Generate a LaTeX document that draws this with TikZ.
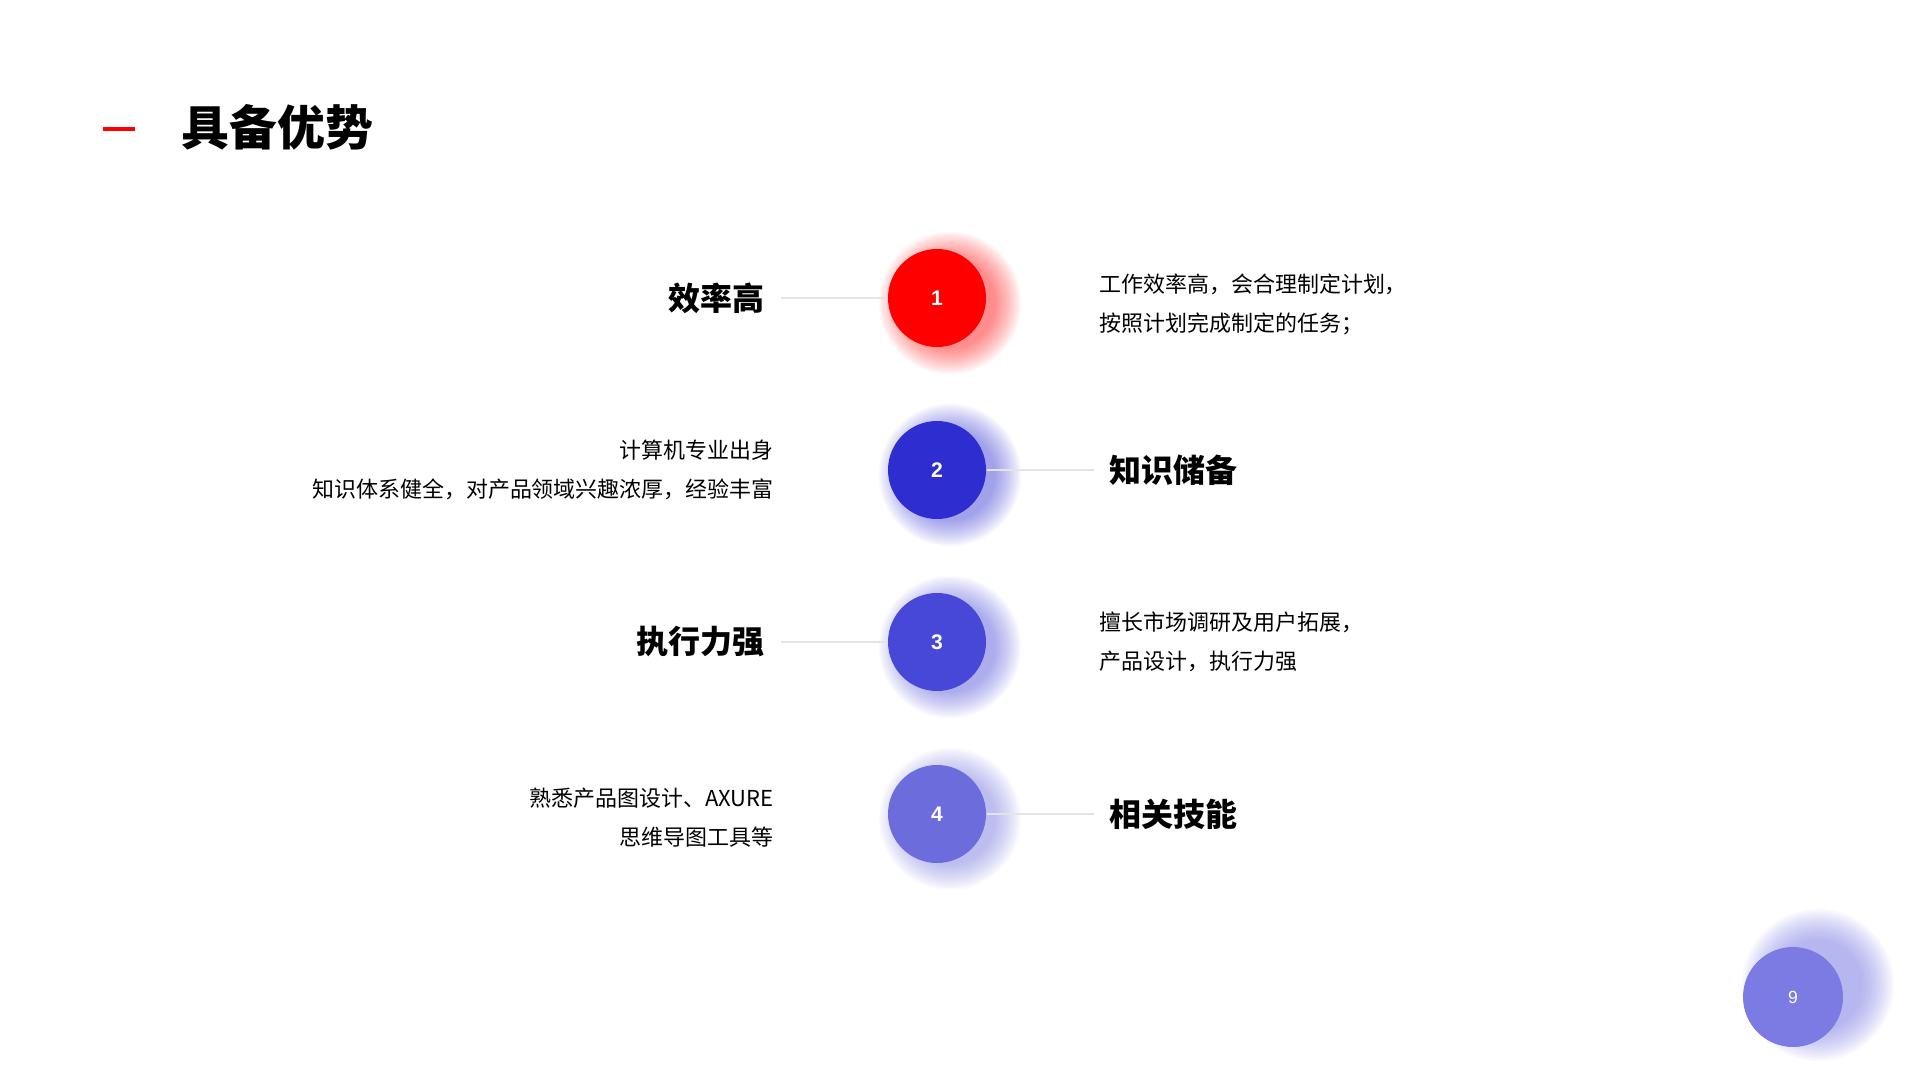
\documentclass[tikz,border=0pt]{standalone}
\usepackage{fontspec}
\setmainfont{Noto Sans CJK SC}
\newfontfamily\digitfont{Liberation Sans}
\usetikzlibrary{positioning,calc}
\definecolor{advred}{RGB}{255,0,0}
\definecolor{advblueA}{RGB}{46,46,208}
\definecolor{advblueB}{RGB}{72,72,216}
\definecolor{advblueC}{RGB}{108,108,221}
\definecolor{advpage}{RGB}{123,123,227}
\definecolor{advline}{RGB}{228,228,228}
\tikzset{
  numcircle/.style={circle, fill=#1, minimum size=0.98cm, inner sep=0pt, text=white,
    font=\digitfont\bfseries\fontsize{6}{7}\selectfont},
  headtext/.style={inner sep=0pt, font=\bfseries\fontsize{9.1}{11}\selectfont},
  desctext/.style={inner sep=0pt, font=\fontsize{6.25}{11.1}\selectfont},
  linkline/.style={draw=advline, line width=0.5pt},
}

\begin{document}
\begin{tikzpicture}
    \useasboundingbox (0,0) rectangle (19.2,-10.8);

    % Title
    \coordinate (dashL) at (1.03,-1.29);
    \coordinate (dashR) at (1.35,-1.29);
    \draw[advred, line width=1.4pt] (dashL) -- (dashR);
    \node[anchor=west, inner sep=0pt, font=\bfseries\fontsize{13.6}{16}\selectfont] (title) at (1.81,-1.27) {具备优势};

    % Glow behind the circles
    \foreach \y/\col in {-2.98/advred, -4.70/advblueA, -6.42/advblueB, -8.14/advblueC} {
        \foreach \k in {0,...,24}
            \fill[\col, opacity=0.022] (9.50, \y-0.05) circle ({0.45+\k*0.011});
    }

    % Numbered circles
    \foreach \n/\y/\col in {1/-2.98/advred, 2/-4.70/advblueA, 3/-6.42/advblueB, 4/-8.14/advblueC} {
        \node[numcircle=\col] (c\n) at (9.37,\y) {\n};
    }

    % Row 1
    \node[headtext, left=1.22cm of c1] (h1) {效率高};
    \node[desctext, align=left, right=1.12cm of c1, yshift=-0.06cm] (d1) {工作效率高，会合理制定计划，\\按照计划完成制定的任务；};
    \draw[linkline, shorten <=0.16cm] (h1) -- (c1);

    % Row 2
    \node[desctext, align=right, left=1.13cm of c2] (d2) {计算机专业出身\\知识体系健全，对产品领域兴趣浓厚，经验丰富};
    \node[headtext, right=1.22cm of c2] (h2) {知识储备};
    \draw[linkline, shorten >=0.15cm] (c2) -- (h2);

    % Row 3
    \node[headtext, left=1.22cm of c3] (h3) {执行力强};
    \node[desctext, align=left, right=1.12cm of c3] (d3) {擅长市场调研及用户拓展，\\产品设计，执行力强};
    \draw[linkline, shorten <=0.16cm] (h3) -- (c3);

    % Row 4
    \node[desctext, align=right, left=1.13cm of c4, yshift=-0.04cm] (d4) {熟悉产品图设计、AXURE\\思维导图工具等};
    \node[headtext, right=1.22cm of c4] (h4) {相关技能};
    \draw[linkline, shorten >=0.15cm] (c4) -- (h4);

    % Page number
    \foreach \k in {0,...,24}
        \fill[advpage, opacity=0.03] (18.18,-9.85) circle ({0.45+\k*0.013});
    \node[circle, fill=advpage, minimum size=1.0cm, inner sep=0pt, text=white,
        font=\digitfont\fontsize{5}{6}\selectfont] (page) at (17.93,-9.97) {9};
\end{tikzpicture}
\end{document}
